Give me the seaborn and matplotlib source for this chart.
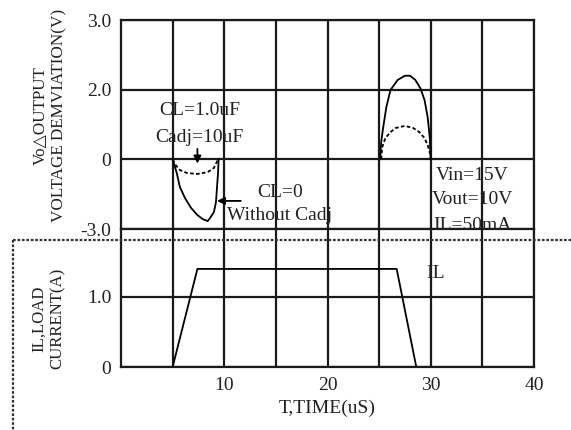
import numpy as np
import matplotlib
matplotlib.use('Agg')
import matplotlib.pyplot as plt
from matplotlib.lines import Line2D
import seaborn as sns

sns.set_theme(style='white')
plt.rcParams['font.family'] = ['Liberation Serif', 'DejaVu Sans']
plt.rcParams['text.color'] = '#222222'

# --- data ---
# upper panel: output voltage deviation (V) vs time (uS)
t_neg_solid = [5.0, 5.2, 5.4, 5.7, 6.2, 6.8, 7.4, 7.9, 8.4, 8.7, 9.0, 9.2, 9.3, 9.4, 9.45]
v_neg_solid = [0, -0.29, -0.59, -1.19, -1.67, -2.10, -2.40, -2.57, -2.66, -2.48, -2.27, -1.84, -1.19, -0.59, 0]
t_neg_dash = [5.0, 5.3, 5.7, 6.4, 7.4, 8.4, 9.0, 9.4]
v_neg_dash = [0, -0.25, -0.46, -0.59, -0.63, -0.55, -0.37, 0]
t_pos_solid = [25.1, 25.2, 25.4, 25.7, 26.1, 26.8, 27.5, 28.0, 28.5, 29.0, 29.4, 29.7, 29.9, 30.0]
v_pos_solid = [0, 0.5, 0.93, 1.50, 1.99, 2.14, 2.20, 2.20, 2.14, 2.02, 1.70, 1.21, 0.64, 0]
t_pos_dash = [25.2, 25.3, 25.6, 26.1, 26.6, 27.5, 28.3, 28.9, 29.4, 29.7, 29.9, 30.0]
v_pos_dash = [0, 0.35, 0.61, 0.78, 0.90, 0.96, 0.90, 0.78, 0.61, 0.41, 0.21, 0]
v_ticks = [-3, 0, 2, 3]
v_ticklabels = ['-3.0', '0', '2.0', '3.0']

# lower panel: load current (A)
t_il = [5.0, 7.4, 26.7, 28.6]
il = [0, 1.4, 1.4, 0]
il_ticks = [0, 1]
il_ticklabels = ['0', '1.0']

t_major = [10, 20, 30, 40]
t_minor = [5, 15, 25, 35]

# axis of upper panel is not linear: 3.0 / 2.0 / 0 / -3.0 equally spaced
def fwd(v):
    return np.interp(v, [-3, 0, 2, 3], [0, 1, 2, 3])

def inv(p):
    return np.interp(p, [0, 1, 2, 3], [-3, 0, 2, 3])

W, H = 571, 430
fig = plt.figure(figsize=(W / 100, H / 100), dpi=100)
ax2 = fig.add_axes([121 / W, 1 - 367 / H, (534 - 121) / W, (367 - 229) / H])
ax1 = fig.add_axes([121 / W, 1 - 229 / H, (534 - 121) / W, (229 - 20) / H])
ax1.patch.set_alpha(0)

grid_kw = dict(color='#1a1a1a', linewidth=1.6)
for ax in (ax1, ax2):
    ax.set_xlim(0, 40)
    ax.set_xticks(t_major)
    ax.set_xticks(t_minor, minor=True)
    ax.grid(True, which='both', axis='x', **grid_kw)
    ax.grid(True, which='major', axis='y', **grid_kw)
    ax.tick_params(which='both', length=0, labelsize=14, colors='#222222', pad=7)
    for s in ax.spines.values():
        s.set_color('#1a1a1a')
        s.set_linewidth(1.6)
    ax.set_axisbelow(True)

ax1.set_yscale('function', functions=(fwd, inv))
ax1.set_ylim(-3, 3)
ax1.set_yticks(v_ticks)
ax1.set_yticklabels(v_ticklabels)
ax1.tick_params(labelbottom=False)

line_kw = dict(color='black', linewidth=1.3, estimator=None, sort=False, legend=False)
sns.lineplot(x=t_neg_solid, y=v_neg_solid, ax=ax1, **line_kw)
sns.lineplot(x=t_pos_solid, y=v_pos_solid, ax=ax1, **line_kw)
sns.lineplot(x=t_neg_dash, y=v_neg_dash, ax=ax1, linestyle=(0, (2.0, 1.3)), **line_kw)
sns.lineplot(x=t_pos_dash, y=v_pos_dash, ax=ax1, linestyle=(0, (2.0, 1.3)), **line_kw)

txt = dict(fontsize=14, ha='center', va='center')
ax1.text(7.6, 1.41, 'CL=1.0uF', **txt)
ax1.text(7.6, 0.64, 'Cadj=10uF', **txt)
ax1.text(15.4, -1.41, 'CL=0', **txt)
ax1.text(15.4, -2.44, 'Without Cadj', **txt)
ax1.text(34.0, -0.68, 'Vin=15V', **txt)
ax1.text(34.0, -1.75, 'Vout=10V', **txt)
ax1.text(34.0, -2.83, 'IL=50mA', **txt)
arrow = dict(arrowstyle='-|>', color='black', lw=1.3, mutation_scale=11, shrinkA=0, shrinkB=0)
ax1.annotate('', xy=(7.4, -0.18), xytext=(7.4, 0.3), arrowprops=arrow)
ax1.annotate('', xy=(9.3, -1.79), xytext=(11.6, -1.79), arrowprops=arrow)

ax1.set_ylabel('Vo\u25b3OUTPUT\nVOLTAGE DEMVIATION(V)', fontsize=12.3,
               linespacing=1.2, color='#222222')
ax1.yaxis.set_label_coords(-0.131, 0.545)

ax2.set_ylim(0, 1.97)
ax2.set_yticks(il_ticks)
ax2.set_yticklabels(il_ticklabels)
ax2.set_xticklabels([str(t) for t in t_major])
ax2.spines['top'].set_visible(False)
sns.lineplot(x=t_il, y=il, ax=ax2, **line_kw)
ax2.text(30.5, 1.34, 'IL', **txt)
ax2.set_ylabel('IL,LOAD\nCURRENT(A)', fontsize=12.1, linespacing=1.2, color='#222222')
ax2.yaxis.set_label_coords(-0.134, 0.35)
ax2.set_xlabel('T,TIME(uS)', fontsize=14, labelpad=4, color='#222222')

# dotted separators across the figure
dot_kw = dict(color='#333333', linewidth=1.6, linestyle=(0, (1.2, 0.8)))
fig.add_artist(Line2D([13 / W, 1.0], [1 - 240 / H, 1 - 240 / H], transform=fig.transFigure, **dot_kw))
fig.add_artist(Line2D([13 / W, 13 / W], [1 - 240 / H, 0.0], transform=fig.transFigure, **dot_kw))

fig.savefig('out.png', dpi=100)
